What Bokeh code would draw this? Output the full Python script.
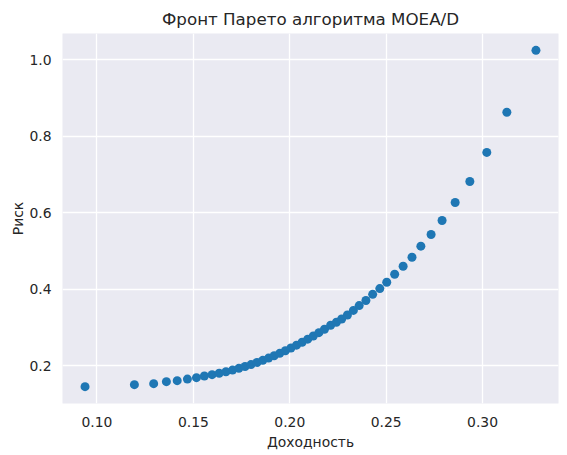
from bokeh.plotting import figure
from bokeh.models import Range1d, FixedTicker, NumeralTickFormatter
from bokeh.embed import file_html
from bokeh.resources import INLINE

# Парето-фронт: доходность / риск (оценено по картинке)
returns = [0.0938, 0.1194, 0.1294, 0.1360, 0.1416, 0.1469, 0.1516, 0.1557, 0.1597,
           0.1634, 0.1669, 0.1703, 0.1736, 0.1768, 0.1799, 0.1830, 0.1860, 0.1890,
           0.1919, 0.1948, 0.1977, 0.2006, 0.2035, 0.2064, 0.2093, 0.2122, 0.2151,
           0.2180, 0.2212, 0.2242, 0.2269, 0.2299, 0.2330, 0.2360, 0.2395, 0.2430,
           0.2467, 0.2503, 0.2544, 0.2588, 0.2634, 0.2680, 0.2733, 0.2790, 0.2858,
           0.2934, 0.3022, 0.3126, 0.3277]
risks = [0.1455, 0.1508, 0.1534, 0.1586, 0.1613, 0.1654, 0.1691, 0.1733, 0.1770,
         0.1806, 0.1845, 0.1888, 0.1934, 0.1982, 0.2032, 0.2087, 0.2143, 0.2202,
         0.2263, 0.2327, 0.2395, 0.2466, 0.2540, 0.2617, 0.2697, 0.2781, 0.2868,
         0.2958, 0.3060, 0.3139, 0.3225, 0.3330, 0.3450, 0.3576, 0.3707, 0.3870,
         0.4020, 0.4186, 0.4395, 0.4605, 0.4840, 0.5130, 0.5435, 0.5800, 0.6270,
         0.6820, 0.7580, 0.8630, 1.0250]
x_ticks = [0.10, 0.15, 0.20, 0.25, 0.30]
y_ticks = [0.2, 0.4, 0.6, 0.8, 1.0]


def padded(vals, m=0.05):
    lo, hi = min(vals), max(vals)
    d = (hi - lo) * m
    return Range1d(lo - d, hi + d)


FONT = "DejaVu Sans"
TEXT = "#262626"

p = figure(
    title="Фронт Парето алгоритма MOEA/D",
    x_axis_label="Доходность",
    y_axis_label="Риск",
    x_range=padded(returns),
    y_range=padded(risks),
    width=567,
    height=455,
    min_border_left=62,
    min_border_right=9,
    min_border_top=33,
    min_border_bottom=52,
    output_backend="svg",
    toolbar_location=None,
)

p.background_fill_color = "#EAEAF2"
p.border_fill_color = "white"
p.outline_line_color = None

p.title.align = "center"
p.title.text_font = FONT
p.title.text_font_size = "16.7px"
p.title.text_font_style = "normal"
p.title.text_color = TEXT
p.title.offset = 0

for ax in (p.xaxis, p.yaxis):
    ax.axis_line_color = None
    ax.major_tick_line_color = None
    ax.minor_tick_line_color = None
    ax.major_tick_out = 0
    ax.major_tick_in = 0
    ax.major_label_text_font = FONT
    ax.major_label_text_font_size = "13.9px"
    ax.major_label_text_color = TEXT
    ax.axis_label_text_font = FONT
    ax.axis_label_text_font_size = "13.9px"
    ax.axis_label_text_font_style = "normal"
    ax.axis_label_text_color = TEXT

p.xaxis.ticker = FixedTicker(ticks=x_ticks)
p.yaxis.ticker = FixedTicker(ticks=y_ticks)
p.xaxis.formatter = NumeralTickFormatter(format="0.00")
p.yaxis.formatter = NumeralTickFormatter(format="0.0")
p.xaxis.major_label_standoff = 13
p.xaxis.axis_label_standoff = 4
p.yaxis.major_label_standoff = 11
p.yaxis.axis_label_standoff = 0

for g in (p.xgrid, p.ygrid):
    g.grid_line_color = "white"
    g.grid_line_width = 1.3

p.scatter(returns, risks, size=9, color="#1f77b4", line_color=None)

open("out.html", "w").write(file_html(p, INLINE))
